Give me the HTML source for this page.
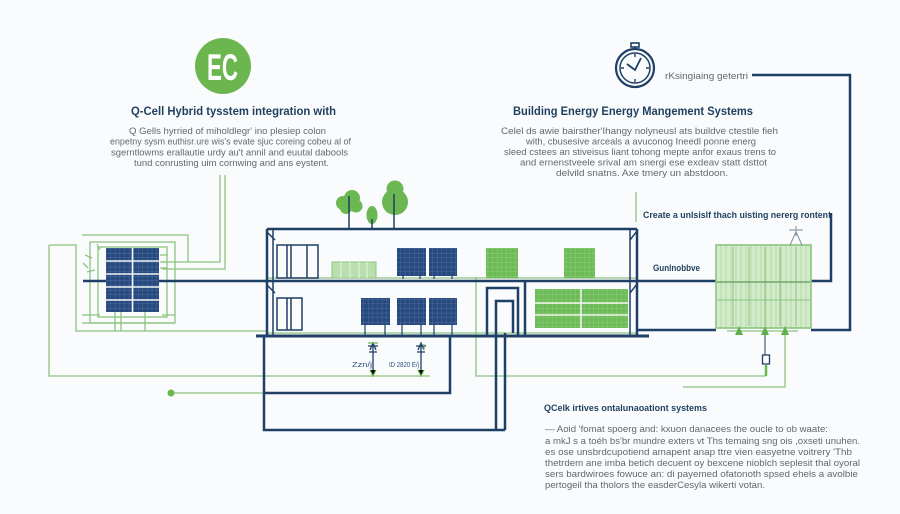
<!DOCTYPE html>
<html><head><meta charset="utf-8"><style>
html,body{margin:0;padding:0;background:#fafbfc;}
svg{display:block;}
.t{font-family:"Liberation Sans",sans-serif;}
.ti{font-family:"Liberation Sans",sans-serif;font-weight:bold;fill:#1e3f5f;}
.p{font-family:"Liberation Sans",sans-serif;fill:#62676e;font-size:9.5px;}
</style></head><body>
<svg width="900" height="514" viewBox="0 0 900 514" xmlns="http://www.w3.org/2000/svg">
<defs>
<pattern id="np" patternUnits="userSpaceOnUse" width="4.6" height="4.6">
<rect width="4.6" height="4.6" fill="#27497d"/>
<path d="M0 0H4.6M0 0V4.6" stroke="#5a7caf" stroke-width="0.6"/>
</pattern>
<pattern id="gp" patternUnits="userSpaceOnUse" width="4.6" height="4.6">
<rect width="4.6" height="4.6" fill="#6dbb57"/>
<path d="M0 0H4.6M0 0V4.6" stroke="#9fd38f" stroke-width="0.6"/>
</pattern>
<pattern id="sp" patternUnits="userSpaceOnUse" width="5" height="10">
<rect width="5" height="10" fill="#d4ebcb"/>
<path d="M1 0V10" stroke="#a9d49a" stroke-width="0.8"/>
</pattern>
</defs>
<rect width="900" height="514" fill="#fafbfc"/>

<!-- EC circle -->
<circle cx="223" cy="66" r="28" fill="#6cb650"/>
<text x="207" y="80" class="t" font-weight="bold" font-size="37" fill="#fff" textLength="31" lengthAdjust="spacingAndGlyphs">EC</text>

<!-- left heading + paragraph -->
<text class="ti" x="131" y="115" font-size="11.5" textLength="205" lengthAdjust="spacingAndGlyphs">Q-Cell Hybrid tysstem integration with</text>
<text class="p" x="129" y="134" textLength="197" lengthAdjust="spacingAndGlyphs">Q Gells hyrried of miholdlegr' ino plesiep colon</text>
<text class="p" x="110" y="144.5" textLength="241" lengthAdjust="spacingAndGlyphs">enpetny sysm euthisr.ure wis's evate sjuc coreing cobeu al of</text>
<text class="p" x="111" y="155.5" textLength="237" lengthAdjust="spacingAndGlyphs">sgerntlowms erallautie urdy au't annil and euutal dabools</text>
<text class="p" x="134" y="166" textLength="195" lengthAdjust="spacingAndGlyphs">tund conrusting uim cornwing and ans eystent.</text>

<!-- stopwatch -->
<g stroke="#1e3f66" fill="none" stroke-width="2.2">
<circle cx="635" cy="68" r="19"/>
<circle cx="635" cy="68" r="15" stroke-width="1.5"/>
<rect x="631" y="43" width="8" height="4" stroke-width="1.6"/>
<path d="M635 47V49"/>
<path d="M627 64L635 70L641 58" stroke-width="1.8"/>
<path d="M635 54V57M635 79V82M621 68H624M646 68H649" stroke-width="1.4"/>
</g>
<text class="p" x="665" y="79" textLength="83" lengthAdjust="spacingAndGlyphs">rKsingiaing getertri</text>

<!-- right heading + paragraph -->
<text class="ti" x="513" y="115" font-size="11.5" textLength="240" lengthAdjust="spacingAndGlyphs">Building Energy Energy Mangement Systems</text>
<text class="p" x="501" y="134" textLength="277" lengthAdjust="spacingAndGlyphs">Celel ds awie bairsther'Ihangy nolyneusl ats buildve ctestile fieh</text>
<text class="p" x="526" y="144.5" textLength="230" lengthAdjust="spacingAndGlyphs">with, cbusesive arceals a avuconog Ineedl ponne energ</text>
<text class="p" x="504" y="155" textLength="272" lengthAdjust="spacingAndGlyphs">sleed cstees an stiveisus liant tohong mepte anfor exaus trens to</text>
<text class="p" x="520" y="165.5" textLength="247" lengthAdjust="spacingAndGlyphs">and ernenstveele srival am snergi ese exdeav statt dsttot</text>
<text class="p" x="556" y="176" textLength="172" lengthAdjust="spacingAndGlyphs">delvild snatns.  Axe tmery un abstdoon.</text>

<text class="ti" x="643" y="218" font-size="9.5" textLength="188" lengthAdjust="spacingAndGlyphs">Create a unlsislf thach uisting nererg rontent</text>
<text class="ti" x="653" y="271" font-size="9.5" textLength="47" lengthAdjust="spacingAndGlyphs">Gunlnobbve</text>

<!-- green connector lines -->
<g stroke="#8cc47f" stroke-width="1.3" fill="none">
<path d="M220 175V262H162"/>
<path d="M225 175V269H162"/>
<path d="M82 235H188V262"/>
<rect x="90" y="242" width="85" height="81"/>
<rect x="98" y="247" width="69" height="70"/>
<path d="M82 323H174M82 315H100M162 315H175"/>
<path d="M115 312V331M121 312V331M145 312V331"/>
<path d="M83 263L88 268M85 255L92 258M87 272L95 270M100 250L97 244"/>
<path d="M160 255H168M160 262H166M160 268H167"/>
<path d="M49 245H76V331H267"/>
<path d="M49 245V376H430"/>
<path d="M171 393H264"/>
<path d="M267 278H637M267 333H637"/>
<path d="M636 192V222"/>
<path d="M476 277V376H766"/>
<path d="M727 331H798"/>
<path d="M785 331V387H683"/>
<path d="M766 365V376" stroke-width="2.5" stroke="#6cb650"/>
</g>
<circle cx="171" cy="393" r="3.5" fill="#6cb650"/>

<!-- left panel -->
<rect x="106" y="248" width="53" height="64" fill="url(#np)"/>
<path d="M132.5 248V312M106 261H159M106 274H159M106 287H159M106 300H159" stroke="#f2f5f8" stroke-width="1.6"/>

<!-- trees -->
<g fill="#6bb852">
<circle cx="343" cy="203" r="7"/>
<circle cx="352" cy="198" r="8"/>
<circle cx="356" cy="206" r="6.5"/>
<circle cx="346" cy="208" r="6"/>
<ellipse cx="372" cy="215" rx="5.5" ry="9"/>
<ellipse cx="395" cy="202" rx="13" ry="13"/>
<circle cx="395" cy="189" r="8.5"/>
</g>
<g stroke="#1e3f66" stroke-width="1.5">
<path d="M349 196V229M372 219V229M394 194V229"/>
</g>

<!-- building -->
<g stroke="#1e3f66" fill="none" stroke-width="2.5">
<path d="M267 229H637"/>
<path d="M267 229V336"/>
<path d="M637 229V336"/>
<path d="M83 281H106M159 281H716"/>
<path d="M256 336H649" stroke-width="3"/>
<path d="M525 281V336"/>
<path d="M487 336V288H518V336"/>
<path d="M496 430V301H513V333M505 333V430"/>
<path d="M264 336V430H505"/>
<path d="M264 393H450V336"/>
<path d="M637 330H716"/>
<path d="M811 281H831V213"/>
<path d="M752 75H850V330H811"/>
</g>
<g stroke="#1e3f66" fill="none" stroke-width="1.5">
<path d="M630 229V336M630 240L637 231M630 293L637 284"/>
<path d="M273 229V336M267 232L275 240M267 285L275 293"/>
<rect x="277" y="245" width="41" height="33"/>
<path d="M287 245V278M291 245V278M307 245V278"/>
<rect x="277" y="298" width="25" height="32"/>
<path d="M287 298V330M291 298V330"/>
</g>
<!-- glazing -->
<rect x="332" y="262" width="44" height="16" fill="#b9dfae" stroke="#8cc47f"/>
<path d="M341 262V278M350 262V278M359 262V278M367 262V278" stroke="#e5f3e0" stroke-width="1"/>
<!-- navy panels -->
<g>
<rect x="397" y="248" width="29" height="28" fill="url(#np)"/>
<rect x="429" y="248" width="28" height="28" fill="url(#np)"/>
<rect x="361" y="298" width="29" height="27" fill="url(#np)"/>
<rect x="397" y="298" width="29" height="27" fill="url(#np)"/>
<rect x="429" y="298" width="28" height="27" fill="url(#np)"/>
</g>
<path d="M403 276V279M420 276V279M434 276V279M452 276V279M365 325V336M385 325V336M402 325V336M421 325V336M434 325V336M452 325V336" stroke="#1e3f66" stroke-width="1.2"/>
<!-- green panels -->
<rect x="486" y="248" width="32" height="30" fill="url(#gp)"/>
<rect x="564" y="248" width="31" height="30" fill="url(#gp)"/>
<rect x="535" y="289" width="93" height="39" fill="url(#gp)"/>
<path d="M581 289V328M535 303H628M535 315H628" stroke="#f0f8ee" stroke-width="1.5"/>

<!-- basement towers -->
<g stroke="#1e3f66" stroke-width="1.3" fill="none">
<path d="M373 343V374M370 350L373 343L376 350M368 346H378M369 352H377"/>
<path d="M421 343V374M418 350L421 343L424 350M416 346H426M417 352H425"/>
</g>
<g stroke="#6cb650" stroke-width="1.2">
<path d="M368 343H378M370 370L373 376L376 370M418 370L421 376L424 370M424 344V350"/>
</g>
<text class="t" x="352" y="367" font-size="7" fill="#2e5080" textLength="20" lengthAdjust="spacingAndGlyphs">Zzn/j</text>
<text class="t" x="389" y="367" font-size="7" fill="#2e5080" textLength="30" lengthAdjust="spacingAndGlyphs">ID 2820 E/j</text>

<!-- green box -->
<rect x="716" y="245" width="95" height="83" fill="url(#sp)" stroke="#8cc47f" stroke-width="1.6"/>
<path d="M733 247V326M749 247V326M765 247V326M780 247V326M796 247V326" stroke="#8fbf85" stroke-width="1"/>
<path d="M717 282H810" stroke="#6fa86a" stroke-width="1.6"/>
<path d="M717 300H810" stroke="#8cc47f" stroke-width="1"/>
<path d="M790 245L796 232L802 245M796 226V236M789 230H803" stroke="#7a8fa0" stroke-width="1" fill="none"/>
<g fill="#5cb04a">
<polygon points="735,335 743,335 739,326"/>
<polygon points="761,335 769,335 765,326"/>
<polygon points="781,335 789,335 785,326"/>
</g>
<path d="M765 335V355" stroke="#1e3f66" stroke-width="1"/>
<rect x="762.5" y="355" width="7" height="9" fill="none" stroke="#1e3f66" stroke-width="1.3"/>

<!-- bottom right text -->
<text class="ti" x="544" y="411" font-size="9.5" textLength="163" lengthAdjust="spacingAndGlyphs">QCelk irtives ontalunaoationt systems</text>
<text class="p" x="545" y="432" textLength="283" lengthAdjust="spacingAndGlyphs">—  Aoid 'fomat spoerg and: kxuon danacees the oucle to ob waate:</text>
<text class="p" x="545" y="444" textLength="315" lengthAdjust="spacingAndGlyphs">a mkJ s a toéh bs'br mundre exters vt Ths temaing sng ois ,oxseti unuhen.</text>
<text class="p" x="545" y="455" textLength="307" lengthAdjust="spacingAndGlyphs">es ose unsbrdcupotiend amapent anap ttre vien easyetne voitrery 'Thb</text>
<text class="p" x="545" y="466" textLength="315" lengthAdjust="spacingAndGlyphs">thetrdem ane imba betich decuent oy bexcene nioblch seplesit thal oyoral</text>
<text class="p" x="545" y="477" textLength="313" lengthAdjust="spacingAndGlyphs">sers bardwiroes fowuce an: di payemed ofatonoth spsed ehels a avolbie</text>
<text class="p" x="545" y="488" textLength="220" lengthAdjust="spacingAndGlyphs">pertogeil tha tholors the easderCesyla wikerti votan.</text>
</svg>
</body></html>
